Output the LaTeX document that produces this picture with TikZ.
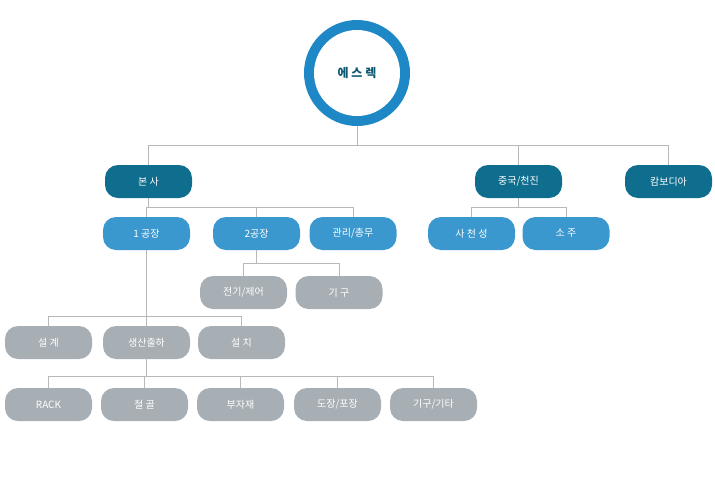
\documentclass[tikz,border=0pt]{standalone}
\usepackage{fontspec}
\newfontfamily\kr{Noto Sans CJK KR}
\usetikzlibrary{positioning}
\definecolor{topblue}{HTML}{1E88C6}
\definecolor{darkteal}{HTML}{0F6E8E}
\definecolor{midblue}{HTML}{3A98CF}
\definecolor{lightgray}{HTML}{A7AFB4}
\definecolor{linegray}{HTML}{B8B8B8}
\begin{document}
\begin{tikzpicture}[x=1pt, y=-1pt,
        pill/.style={rectangle, rounded corners=13pt, minimum width=87pt, minimum height=33pt, text=white, font=\kr\fontsize{10}{12}\selectfont, inner sep=0pt},
        office/.style={pill, fill=darkteal},
        plant/.style={pill, fill=midblue},
        dept/.style={pill, fill=lightgray},
        link/.style={draw=linegray, line width=0.8pt},
    ]
    \useasboundingbox (0,0) rectangle (715,480);

    % top circle
    \node[circle, fill=topblue, minimum size=106pt] (ring) at (357,73) {};
    \node[circle, fill=white, minimum size=86pt, text=darkteal!80!black, font=\kr\fontsize{12}{14}\selectfont\bfseries] (top) at (357,73) {에 스 렉};

    % level one
    \node[office] (hq) at (148.5,181.5) {본 사};
    \node[office] (china) at (518.5,181.5) {중국/천진};
    \node[office] (cambodia) at (668.5,181.5) {캄보디아};

    % level two
    \node[plant] (plant1) at (146.5,233.5) {1 공장};
    \node[plant] (plant2) at (256.5,233.5) {2공장};
    \node[plant] (admin) at (353,233.5) {관리/총무};
    \node[plant] (sichuan) at (471.5,233.5) {사 천 성};
    \node[plant] (suzhou) at (566,233.5) {소 주};

    % plant 2 departments
    \node[dept] (elec) at (243.5,292.5) {전기/제어};
    \node[dept] (mech) at (339,292.5) {기 구};

    % plant 1 departments
    \node[dept] (design) at (48.5,342.5) {설 계};
    \node[dept] (prod) at (146.5,342.5) {생산출하};
    \node[dept] (install) at (241.5,342.5) {설 치};

    % production items
    \node[dept] (rack) at (48.5,404.5) {RACK};
    \node[dept] (steel) at (144.5,404.5) {철 골};
    \node[dept] (parts) at (240.5,404.5) {부자재};
    \node[dept] (paint) at (337.5,404.5) {도장/포장};
    \node[dept] (misc) at (433.5,404.5) {기구/기타};

    \draw[link] (ring.south) |- (148.5,145) -| (hq.north);
    \draw[link] (ring.south) |- (668.5,145) -| (cambodia.north);
    \draw[link] (518.5,145) -- (china.north);

    \draw[link] (hq.south) |- (146.5,207) -| (plant1.north);
    \draw[link] (hq.south) |- (353,207) -| (admin.north);
    \draw[link] (256.5,207) -- (plant2.north);

    \draw[link] (china.south) |- (471.5,207) -| (sichuan.north);
    \draw[link] (china.south) |- (566,207) -| (suzhou.north);

    \draw[link] (plant2.south) |- (243.5,263) -| (elec.north);
    \draw[link] (plant2.south) |- (339,263) -| (mech.north);

    \draw[link] (plant1.south) |- (48.5,316) -| (design.north);
    \draw[link] (plant1.south) |- (241.5,316) -| (install.north);
    \draw[link] (146.5,316) -- (prod.north);

    \draw[link] (prod.south) |- (48.5,376) -| (rack.north);
    \draw[link] (prod.south) |- (433.5,376) -| (misc.north);
    \draw[link] (144.5,376) -- (steel.north);
    \draw[link] (240.5,376) -- (parts.north);
    \draw[link] (337.5,376) -- (paint.north);
\end{tikzpicture}
\end{document}
